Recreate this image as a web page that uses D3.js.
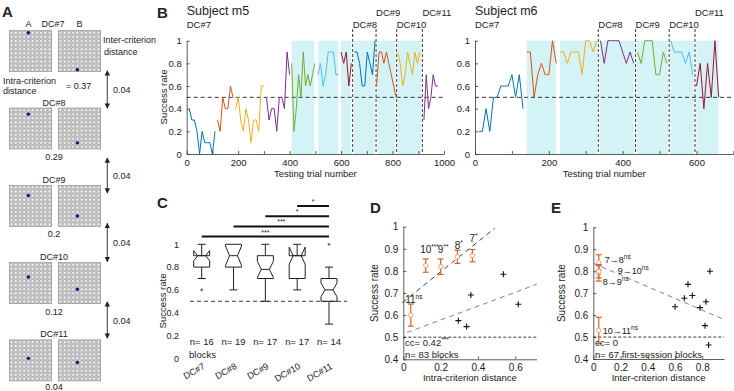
<!DOCTYPE html>
<html><head><meta charset="utf-8">
<script src="https://cdn.jsdelivr.net/npm/d3@7"></script>
<style>
body{margin:0;background:#fff}
text{font-family:"Liberation Sans",Arial,sans-serif;fill:#222}
</style></head><body>
<svg id="fig" width="734" height="391"></svg>
<script>
// ---------- data ----------
var dcNames = ["DC#7", "DC#8", "DC#9", "DC#10", "DC#11"];
var intraDist = [0.37, 0.29, 0.2, 0.12, 0.04];
var interDist = [0.04, 0.04, 0.04, 0.04];
var rowA = [0, 1, 2, 3, 4], rowB = [9, 8, 7, 6, 5], elecCol = 4;

// subject m5 blocks (success rate per 10-trial block)
var m5Start = [10, 120, 190, 310, 408, 510, 600, 652, 738, 820, 922];
var m5Step = [10, 10, 10, 10, 9, 10, 10, 10, 9.5, 9.6, 9];
var m5Vals = [
  [0.4, 0.3, 0.3, 0.2, 0, 0.2, 0.1, 0.1, 0.1, 0, 0.2],
  [0.3, 0.2, 0.5, 0.4, 0.4, 0.6, 0.5],
  [0.4, 0.5, 0.3, 0.2, 0.4, 0.3, 0.1, 0.3, 0.3, 0.2, 0.6, 0.6],
  [0.5, 0.3, 0.4, 0.4, 0.2, 0.5, 0.5, 0.4, 0.9, 0.7],
  [0.8, 0.2, 0.4, 0.7, 0.5, 0.9, 0.6, 0.7, 0.6, 0.7, 0.8],
  [0.7, 0.8, 0.6, 0.7, 0.9, 0.9, 0.9, 0.7, 0.7],
  [0.9, 0.8, 0.9, 0.6, 0.8],
  [0.9, 0.9, 0.8, 0.6, 0.6, 0.9, 0.8, 0.7, 1.0],
  [0.6, 0.9, 0.9, 0.8, 0.9, 0.8, 0.7, 0.6, 0.5],
  [0.9, 0.8, 0.6, 0.7, 0.9, 0.8, 0.7, 0.9, 0.8, 0.9],
  [0.3, 0.7, 0.4, 0.5, 0.7, 0.6, 0.6]
];
var m5Shade = [[408, 496], [511, 589], [600, 913]];
var m5Div = [645, 736, 816, 916];

// subject m6
var m6Start = [10, 140, 230, 340, 440, 530, 600];
var m6Step = [10, 10, 10, 10, 10, 10, 10];
var m6Vals = [
  [0.2, 0.2, 0.4, 0.2, 0.5, 0.5, 0.6, 0.6, 0.6, 0.7, 0.5, 0.7, 0.4],
  [0.9, 0.9, 0.5, 0.7, 0.8, 0.7, 0.7, 1.0, 0.8],
  [0.9, 0.9, 0.8, 0.9, 0.9, 0.9, 0.7, 1.0, 1.0, 0.9, 1.0],
  [1.0, 0.8, 1.0, 1.0, 1.0, 1.0, 0.9, 0.8, 0.9, 0.8],
  [0.9, 0.8, 1.0, 1.0, 1.0, 0.7, 0.7, 0.9, 0.8],
  [1.0, 0.9, 0.9, 0.9, 0.8, 0.9, 0.7],
  [0.6, 0.8, 0.4, 0.8, 0.5, 1.0, 0.5]
];
var m6Shade = [[140, 219], [230, 660]];
var m6Div = [334, 435, 526, 596];

var lineColors = ["#0072BD", "#D95319", "#EDB120", "#7E2F8E", "#77AC30", "#4DBEEE", "#A2142F"];

// panel C boxplots
var cLo = [0.7, 0.6, 0.5, 0.6, 0.3];
var cQ1 = [0.8, 0.8, 0.7, 0.7, 0.5];
var cMed = [0.9, 0.9, 0.78, 0.9, 0.6];
var cQ3 = [0.9, 1.0, 0.9, 0.9, 0.7];
var cHi = [1.0, 1.0, 1.0, 1.0, 0.8];
var cNotch = [0.045, 0.085, 0.07, 0.075, 0.06];
var cOut = [[0, 0.6], [4, 1.0]];
var cN = [16, 19, 17, 17, 14];
var sigFrom = [3, 2, 1, 0], sigStars = ["*", "*", "***", "***"];

// panel D
var dX = [0.04, 0.12, 0.2, 0.29, 0.37];
var dMean = [0.60, 0.824, 0.819, 0.864, 0.869];
var dErr = [0.05, 0.03, 0.035, 0.03, 0.028];
var dLab = ["11", "10", "9", "8", "7"], dSup = ["ns", "***", "**", "*", "*"];
var dLabY = [0.655, 0.88, 0.88, 0.9, 0.93];
var dCrossX = [0.295, 0.339, 0.362, 0.536, 0.616];
var dCrossY = [0.575, 0.548, 0.691, 0.785, 0.649];
var dFitMeans = [0.66, 0.68], dFitBlocks = [0.515, 0.314];

// panel E
var eTrans = ["7\u21928", "8\u21929", "9\u219210", "10\u219211"];
var eX = 0.04;
var eMean = [0.84, 0.79, 0.80, 0.53];
var eErr = [0.035, 0.035, 0.03, 0.06];
var eLabY = [0.838, 0.736, 0.785, 0.516], eLabDx = [6, 4, 19, 4];
var eCrossX = [0.6, 0.668, 0.695, 0.727, 0.783, 0.827, 0.82, 0.856, 0.846];
var eCrossY = [0.638, 0.677, 0.74, 0.689, 0.634, 0.661, 0.552, 0.80, 0.464];
var eFit = [0.836, -0.267];

// ---------- drawing ----------
var svg = d3.select("#fig");
var FONT = '"Liberation Sans", Arial, sans-serif';
var INK = "#333";
var CYAN = "#d3f3f6";

function styleAxis(g, fs) {
  g.attr("font-family", FONT).attr("font-size", fs);
  g.selectAll("path.domain").attr("stroke", INK).attr("stroke-width", 0.8);
  g.selectAll(".tick line").attr("stroke", INK).attr("stroke-width", 0.8);
  g.selectAll(".tick text").attr("fill", "#222");
}
function txt(x, y, s, o) {
  o = o || {};
  return svg.append("text").attr("x", x).attr("y", y).text(s)
    .attr("font-size", o.fs || 9).attr("text-anchor", o.anchor || "start")
    .attr("font-weight", o.bold ? "bold" : null);
}
function fmt(d) { return String(+d.toFixed(1)); }

// panel letters
[["A", 2, 17], ["B", 157, 18], ["C", 157, 208], ["D", 370, 213], ["E", 551, 213]].forEach(function (p) {
  txt(p[1], p[2], p[0], { fs: 15, bold: true });
});

// ---- panel A ----
var gridTop = [30.7, 108, 185.3, 262.6, 339.9];
var gridLeft = [9.3, 58.3];
var gw = 42.4, gh = 41, pitchX = gw / 10, pitchY = gh / 10;
var gA = svg.append("g");
dcNames.forEach(function (name, i) {
  gridLeft.forEach(function (gx, k) {
    gA.append("rect").attr("x", gx).attr("y", gridTop[i]).attr("width", gw).attr("height", gh)
      .attr("fill", "#c4c4c4").attr("stroke", "#8c8c8c").attr("stroke-width", 0.6);
    var cells = d3.range(100);
    gA.selectAll(null).data(cells).enter().append("circle")
      .attr("cx", function (c) { return gx + (c % 10 + 0.5) * pitchX; })
      .attr("cy", function (c) { return gridTop[i] + (Math.floor(c / 10) + 0.5) * pitchY; })
      .attr("r", 1.5).attr("fill", "#f2f2f2").attr("stroke", "#8a8a8a").attr("stroke-width", 0.4);
    var row = k === 0 ? rowA[i] : rowB[i];
    gA.append("circle").attr("cx", gx + (elecCol + 0.5) * pitchX)
      .attr("cy", gridTop[i] + (row + 0.5) * pitchY).attr("r", 1.7).attr("fill", "#14146e");
  });
  if (i === 0) {
    txt(28.4, 27, "A", { anchor: "middle" });
    txt(53, 27, name, { anchor: "middle" });
    txt(79.5, 27, "B", { anchor: "middle" });
    txt(103, 43, "Inter-criterion");
    txt(104, 55, "distance");
    txt(3, 83.5, "Intra-criterion");
    txt(3, 94, "distance");
    txt(66, 88.5, "= " + intraDist[0]);
  } else {
    txt(54, gridTop[i] - 2.5, name, { anchor: "middle" });
    txt(54, Math.min(gridTop[i] + gh + 11, 390), String(intraDist[i]), { anchor: "middle" });
  }
});
// double arrows for inter-criterion distance
var arrowY = [[70.7, 108.3], [158, 193], [223.3, 261.7], [301.7, 338.3]];
svg.append("defs").append("marker").attr("id", "ah").attr("viewBox", "0 0 10 10")
  .attr("refX", 9).attr("refY", 5).attr("markerWidth", 6).attr("markerHeight", 7)
  .attr("orient", "auto-start-reverse").append("path").attr("d", "M0,0L10,5L0,10z").attr("fill", "#222");
interDist.forEach(function (d, i) {
  svg.append("line").attr("x1", 107.3).attr("x2", 107.3).attr("y1", arrowY[i][0]).attr("y2", arrowY[i][1])
    .attr("stroke", "#222").attr("stroke-width", 0.9)
    .attr("marker-start", "url(#ah)").attr("marker-end", "url(#ah)");
  txt(113, (arrowY[i][0] + arrowY[i][1]) / 2 + 3.5, String(d));
});

// ---- panel B ----
function drawSession(o) {
  var x = d3.scaleLinear().domain([0, o.xMax]).range([o.x0, o.x1]);
  var y = d3.scaleLinear().domain([0, 1]).range([154, 40.7]);
  var g = svg.append("g");
  o.shade.forEach(function (s) {
    g.append("rect").attr("x", x(s[0])).attr("y", y(1)).attr("width", x(s[1]) - x(s[0]))
      .attr("height", y(0) - y(1)).attr("fill", CYAN);
  });
  o.div.forEach(function (t) {
    g.append("line").attr("x1", x(t)).attr("x2", x(t)).attr("y1", y(1)).attr("y2", y(0))
      .attr("stroke", "#fff").attr("stroke-width", 2.6);
  });
  g.append("line").attr("x1", x(0)).attr("x2", x(o.xMax)).attr("y1", y(0.5)).attr("y2", y(0.5))
    .attr("stroke", "#222").attr("stroke-width", 0.9).attr("stroke-dasharray", "4,3");
  o.div.forEach(function (t) {
    g.append("line").attr("x1", x(t)).attr("x2", x(t)).attr("y1", 29).attr("y2", y(0))
      .attr("stroke", "#222").attr("stroke-width", 0.9).attr("stroke-dasharray", "3,2");
  });
  var line = d3.line().x(function (p) { return x(p[0]); }).y(function (p) { return y(p[1]); });
  o.vals.forEach(function (vs, k) {
    var pts = vs.map(function (v, i) { return [o.start[k] + i * o.step[k], v]; });
    g.append("path").attr("d", line(pts)).attr("fill", "none")
      .attr("stroke", lineColors[k % 7]).attr("stroke-width", 1);
  });
  var ya = g.append("g").attr("transform", "translate(" + x(0) + ",0)")
    .call(d3.axisLeft(y).tickValues([0, 0.2, 0.4, 0.6, 0.8, 1]).tickFormat(fmt).tickSize(-3).tickSizeOuter(0).tickPadding(5));
  styleAxis(ya, 9.5);
  var ticks = d3.range(0, o.xMax + 1, 100);
  var xa = g.append("g").attr("transform", "translate(0," + y(0) + ")")
    .call(d3.axisBottom(x).tickValues(ticks).tickFormat(function (d) { return d % 200 === 0 ? d : ""; })
      .tickSize(-3).tickSizeOuter(0).tickPadding(5));
  styleAxis(xa, 9.5);
  txt((x(0) + x(o.xMax)) / 2, 177, "Testing trial number", { anchor: "middle", fs: 9.5 });
  txt(x(0), 15, o.title, { fs: 12.5 });
  txt(x(0), 28, "DC#7", { fs: 9.5 });
  o.div.forEach(function (t, i) {
    txt(x(t), o.labHigh[i] ? 16 : 27.5, dcNames[i + 1], { fs: 9.5 });
  });
  return y;
}
drawSession({ xMax: 1000, x0: 186.7, x1: 444, shade: m5Shade, div: m5Div, vals: m5Vals,
  start: m5Start, step: m5Step, title: "Subject m5", labHigh: [false, true, false, true] });
drawSession({ xMax: 700, x0: 475, x1: 733.4, shade: m6Shade, div: m6Div, vals: m6Vals,
  start: m6Start, step: m6Step, title: "Subject m6", labHigh: [false, false, false, true] });
svg.append("text").attr("transform", "translate(167,97) rotate(-90)").attr("text-anchor", "middle")
  .attr("font-size", 9.5).text("Success rate");

// ---- panel C ----
var xC = d3.scalePoint().domain(dcNames).range([201.7, 329]);
var yC = d3.scaleLinear().domain([0, 1]).range([358.3, 244.3]);
var gC = svg.append("g");
[0, 0.2, 0.4, 0.6, 0.8, 1].forEach(function (v) {
  txt(179, yC(v) + 3.2, fmt(v), { anchor: "end", fs: 9 });
});
svg.append("text").attr("transform", "translate(165.5,301) rotate(-90)").attr("text-anchor", "middle")
  .attr("font-size", 9.5).text("Success rate");
gC.append("line").attr("x1", 190).attr("x2", 347).attr("y1", yC(0.5)).attr("y2", yC(0.5))
  .attr("stroke", "#222").attr("stroke-width", 0.9).attr("stroke-dasharray", "4,3");
var bw = 16;
dcNames.forEach(function (n, i) {
  var cx = xC(n), h = bw / 2, q = bw / 4;
  var lo = cMed[i] - cNotch[i], hi = cMed[i] + cNotch[i];
  var pts = [[cx - h, cQ1[i]], [cx - h, lo], [cx - q, cMed[i]], [cx - h, hi], [cx - h, cQ3[i]],
    [cx + h, cQ3[i]], [cx + h, hi], [cx + q, cMed[i]], [cx + h, lo], [cx + h, cQ1[i]]];
  gC.append("path").attr("d", "M" + pts.map(function (p) { return p[0] + "," + yC(p[1]); }).join("L") + "Z")
    .attr("fill", "none").attr("stroke", "#222").attr("stroke-width", 1);
  gC.append("line").attr("x1", cx - q).attr("x2", cx + q).attr("y1", yC(cMed[i])).attr("y2", yC(cMed[i]))
    .attr("stroke", "#222").attr("stroke-width", 1);
  [[cQ1[i], cLo[i]], [cQ3[i], cHi[i]]].forEach(function (w) {
    if (w[0] === w[1]) return;
    gC.append("line").attr("x1", cx).attr("x2", cx).attr("y1", yC(w[0])).attr("y2", yC(w[1]))
      .attr("stroke", "#222").attr("stroke-width", 1);
    gC.append("line").attr("x1", cx - 4).attr("x2", cx + 4).attr("y1", yC(w[1])).attr("y2", yC(w[1]))
      .attr("stroke", "#222").attr("stroke-width", 1);
  });
  txt(cx, 345, "n= " + cN[i], { anchor: "middle", fs: 9.5 });
  svg.append("text").attr("transform", "translate(" + (cx + 4) + ",368) rotate(-30)")
    .attr("text-anchor", "end").attr("font-size", 9).text(n);
});
txt(189, 358, "blocks", { fs: 9.5 });
cOut.forEach(function (o) {
  var cx = xC(dcNames[o[0]]), cy = yC(o[1]);
  gC.append("path").attr("d", "M" + (cx - 1.5) + "," + cy + "h3M" + cx + "," + (cy - 1.5) + "v3")
    .attr("stroke", "#222").attr("stroke-width", 0.7);
});
sigFrom.forEach(function (f, k) {
  var yy = 206 + k * 10.2;
  gC.append("line").attr("x1", xC(dcNames[f])).attr("x2", xC(dcNames[4])).attr("y1", yy).attr("y2", yy)
    .attr("stroke", "#111").attr("stroke-width", 2);
  txt((xC(dcNames[f]) + xC(dcNames[4])) / 2, yy - 2, sigStars[k], { anchor: "middle", fs: 7 });
});

// ---- scatter panels D and E ----
function scatterAxes(x, y, xEnd, xTicks, label, ylabX) {
  var g = svg.append("g");
  var ya = g.append("g").attr("transform", "translate(" + x(0) + ",0)")
    .call(d3.axisLeft(y).tickValues([0.4, 0.5, 0.6, 0.7, 0.8, 0.9, 1]).tickFormat(fmt)
      .tickSize(-3).tickSizeOuter(0).tickPadding(5));
  styleAxis(ya, 10);
  var xs = d3.scaleLinear().domain([0, x.invert(xEnd)]).range([x(0), xEnd]);
  var xa = g.append("g").attr("transform", "translate(0," + y(0.4) + ")")
    .call(d3.axisBottom(xs).tickValues(xTicks).tickFormat(fmt).tickSize(-3).tickSizeOuter(0).tickPadding(5));
  styleAxis(xa, 10);
  txt((x(0) + xEnd) / 2, 381, label, { anchor: "middle", fs: 9.5 });
  svg.append("text").attr("transform", "translate(" + ylabX + "," + y(0.7) + ") rotate(-90)")
    .attr("text-anchor", "middle").attr("font-size", 10).text("Success rate");
  g.append("line").attr("x1", x(0)).attr("x2", xEnd).attr("y1", y(0.5)).attr("y2", y(0.5))
    .attr("stroke", "#222").attr("stroke-width", 0.9).attr("stroke-dasharray", "3,2");
  return g;
}
function cross(g, cx, cy) {
  g.append("path").attr("d", "M" + (cx - 3) + "," + cy + "h6M" + cx + "," + (cy - 3) + "v6")
    .attr("stroke", "#111").attr("stroke-width", 1.1);
}
function errDot(g, cx, m, e, y) {
  g.append("line").attr("x1", cx).attr("x2", cx).attr("y1", y(m - e)).attr("y2", y(m + e))
    .attr("stroke", "#d9622b").attr("stroke-width", 1.2);
  [m - e, m + e].forEach(function (v) {
    g.append("line").attr("x1", cx - 3).attr("x2", cx + 3).attr("y1", y(v)).attr("y2", y(v))
      .attr("stroke", "#d9622b").attr("stroke-width", 1.2);
  });
  g.append("circle").attr("cx", cx).attr("cy", y(m)).attr("r", 2.2).attr("fill", "#fff")
    .attr("stroke", "#e39a76").attr("stroke-width", 0.9);
}
function supText(x, y, main, sup, fs) {
  var t = svg.append("text").attr("x", x).attr("y", y).attr("font-size", fs || 10);
  t.append("tspan").text(main);
  t.append("tspan").attr("font-size", 6.5).attr("dy", -4).text(sup);
  return t;
}

// D
var xD = d3.scaleLinear().domain([0, 0.6]).range([403.3, 515.3]);
var yD = d3.scaleLinear().domain([0.4, 1]).range([359.3, 226.7]);
var gD = scatterAxes(xD, yD, 536.5, [0, 0.2, 0.4, 0.6], "Intra-criterion distance", 378);
gD.append("line").attr("x1", xD(-0.005)).attr("x2", xD(0.49))
  .attr("y1", yD(dFitMeans[0] - 0.005 * dFitMeans[1])).attr("y2", yD(dFitMeans[0] + 0.49 * dFitMeans[1]))
  .attr("stroke", "#222").attr("stroke-width", 0.9).attr("stroke-dasharray", "5,4");
gD.append("line").attr("x1", xD(0.02)).attr("x2", xD(0.715))
  .attr("y1", yD(dFitBlocks[0] + 0.02 * dFitBlocks[1])).attr("y2", yD(dFitBlocks[0] + 0.715 * dFitBlocks[1]))
  .attr("stroke", "#9a5aae").attr("stroke-width", 0.9).attr("stroke-dasharray", "5,4");
dCrossX.forEach(function (v, i) { cross(gD, xD(v), yD(dCrossY[i])); });
dX.forEach(function (v, i) {
  errDot(gD, xD(v), dMean[i], dErr[i], yD);
  var w = dLab[i].length * 5.56;
  supText(xD(v) - w / 2, yD(dLabY[i]), dLab[i], dSup[i]);
});
txt(405, 345.5, "cc= 0.42", { fs: 9.5 }).append("tspan").attr("font-size", 6.5).attr("dy", -4).text("***");
txt(405, 358, "n= 83 blocks", { fs: 9.5 });

// E
var xE = d3.scaleLinear().domain([0, 0.8]).range([593.3, 702.3]);
var yE = d3.scaleLinear().domain([0.4, 1]).range([359, 227.3]);
var gE = scatterAxes(xE, yE, 724, [0, 0.2, 0.4, 0.6, 0.8], "Inter-criterion distance", 565);
gE.append("line").attr("x1", xE(0)).attr("x2", xE(0.965))
  .attr("y1", yE(eFit[0])).attr("y2", yE(eFit[0] + 0.965 * eFit[1]))
  .attr("stroke", "#9a5aae").attr("stroke-width", 0.9).attr("stroke-dasharray", "5,4");
eCrossX.forEach(function (v, i) { cross(gE, xE(v), yE(eCrossY[i])); });
eMean.forEach(function (m, i) {
  errDot(gE, xE(eX), m, eErr[i], yE);
});
eTrans.forEach(function (s, i) {
  supText(xE(eX) + eLabDx[i], yE(eLabY[i]), s, "ns", 9);
});
txt(595, 345.5, "cc= 0", { fs: 9.5 });
txt(595, 358, "n= 67 first-session blocks", { fs: 9.5 });
</script></body></html>
